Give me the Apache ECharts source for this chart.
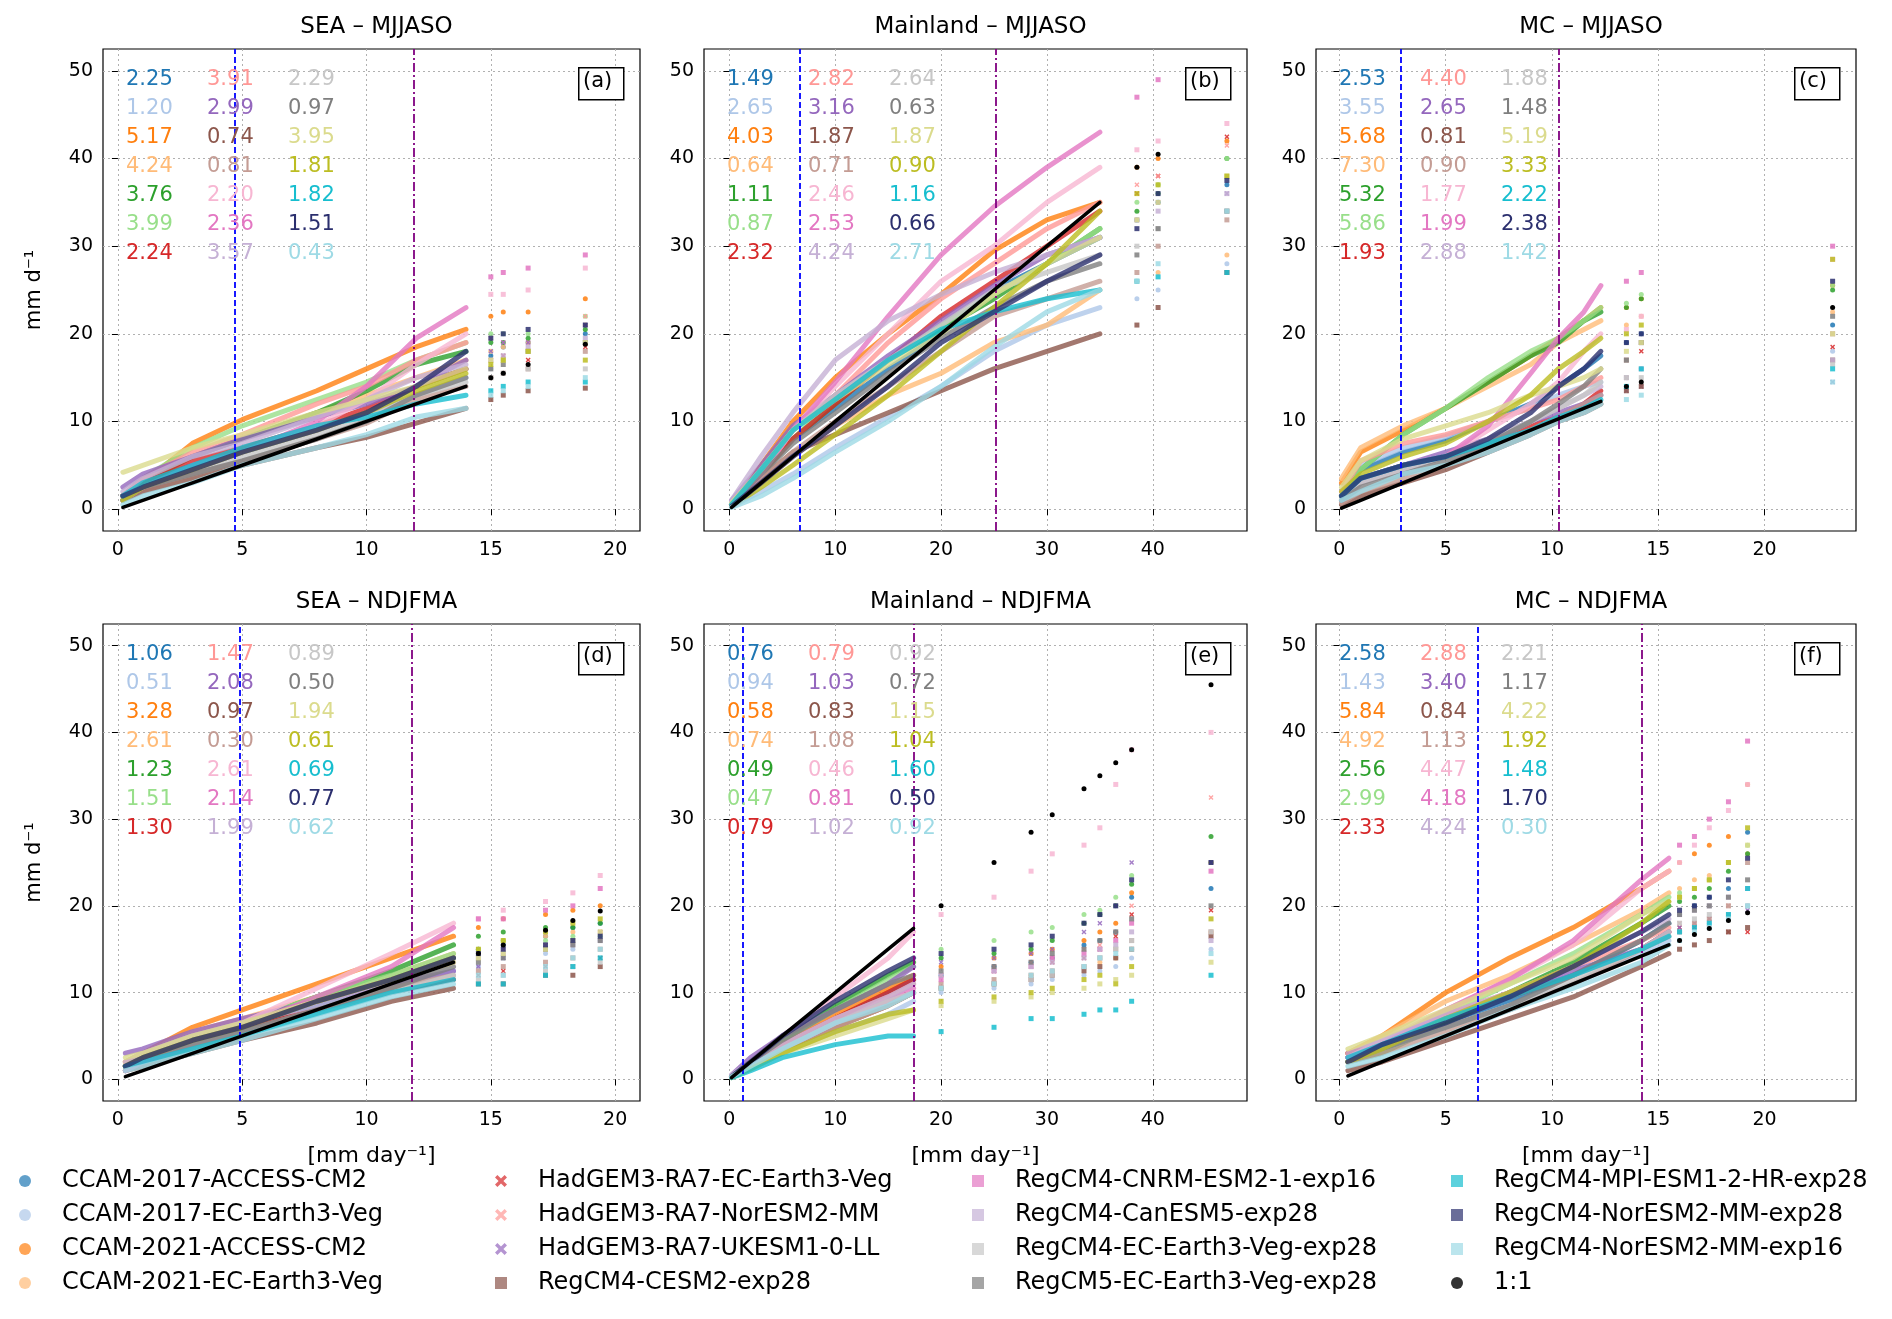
<!DOCTYPE html>
<html><head><meta charset="utf-8">
<script src="https://cdn.jsdelivr.net/npm/echarts@6/dist/echarts.min.js"></script>
<style>html,body{margin:0;padding:0;background:#fff}#c{width:1892px;height:1319px}</style>
</head><body><div id="c"></div>
<script>
const MODELS = ["CCAM-2017-ACCESS-CM2","CCAM-2017-EC-Earth3-Veg","CCAM-2021-ACCESS-CM2","CCAM-2021-EC-Earth3-Veg","Model-05","Model-06","HadGEM3-RA7-EC-Earth3-Veg","HadGEM3-RA7-NorESM2-MM","HadGEM3-RA7-UKESM1-0-LL","RegCM4-CESM2-exp28","Model-11","Model-12","RegCM4-CNRM-ESM2-1-exp16","RegCM4-CanESM5-exp28","RegCM4-EC-Earth3-Veg-exp28","RegCM5-EC-Earth3-Veg-exp28","Model-17","Model-18","RegCM4-MPI-ESM1-2-HR-exp28","RegCM4-NorESM2-MM-exp28","RegCM4-NorESM2-MM-exp16","1:1"];
const COLORS = ["#1f77b4","#aec7e8","#ff7f0e","#ffbb78","#2ca02c","#98df8a","#d62728","#ff9896","#9467bd","#8c564b","#c49c94","#f7b6d2","#e377c2","#c5b0d5","#c7c7c7","#7f7f7f","#dbdb8d","#bcbd22","#17becf","#2b2f6e","#9edae5","#000000"];
const SHAPES = ["circle","circle","circle","circle","circle","circle","x","x","x","rect","rect","rect","rect","rect","rect","rect","rect","rect","rect","rect","rect","circle"];
const LEGEND_COLS = [
 ["CCAM-2017-ACCESS-CM2","CCAM-2017-EC-Earth3-Veg","CCAM-2021-ACCESS-CM2","CCAM-2021-EC-Earth3-Veg"],
 ["HadGEM3-RA7-EC-Earth3-Veg","HadGEM3-RA7-NorESM2-MM","HadGEM3-RA7-UKESM1-0-LL","RegCM4-CESM2-exp28"],
 ["RegCM4-CNRM-ESM2-1-exp16","RegCM4-CanESM5-exp28","RegCM4-EC-Earth3-Veg-exp28","RegCM5-EC-Earth3-Veg-exp28"],
 ["RegCM4-MPI-ESM1-2-HR-exp28","RegCM4-NorESM2-MM-exp28","RegCM4-NorESM2-MM-exp16","1:1"]];
const TITLES = ["SEA – MJJASO","Mainland – MJJASO","MC – MJJASO","SEA – NDJFMA","Mainland – NDJFMA","MC – NDJFMA"];
const LABELS = ["(a)","(b)","(c)","(d)","(e)","(f)"];
const X_TICKS = [[0,5,10,15,20],[0,10,20,30,40],[0,5,10,15,20],[0,5,10,15,20],[0,10,20,30,40],[0,5,10,15,20]];
const Y_TICKS = [0,10,20,30,40,50];
const VLINES = [[4.7,11.9],[6.6,25.2],[2.9,10.3],[4.9,11.8],[1.3,17.4],[6.5,14.2]];
const STATS_A = ["2.25","1.20","5.17","4.24","3.76","3.99","2.24","3.91","2.99","0.74","0.81","2.20","2.36","3.57","2.29","0.97","3.95","1.81","1.82","1.51","0.43"];
const STATS_B = ["1.49","2.65","4.03","0.64","1.11","0.87","2.32","2.82","3.16","1.87","0.71","2.46","2.53","4.24","2.64","0.63","1.87","0.90","1.16","0.66","2.71"];
const STATS_C = ["2.53","3.55","5.68","7.30","5.32","5.86","1.93","4.40","2.65","0.81","0.90","1.77","1.99","2.88","1.88","1.48","5.19","3.33","2.22","2.38","1.42"];
const STATS_D = ["1.06","0.51","3.28","2.61","1.23","1.51","1.30","1.47","2.08","0.97","0.30","2.61","2.14","1.99","0.89","0.50","1.94","0.61","0.69","0.77","0.62"];
const STATS_E = ["0.76","0.94","0.58","0.74","0.49","0.47","0.79","0.79","1.03","0.83","1.08","0.46","0.81","1.02","0.92","0.72","1.15","1.04","1.60","0.50","0.92"];
const STATS_F = ["2.58","1.43","5.84","4.92","2.56","2.99","2.33","2.88","3.40","0.84","1.13","4.47","4.18","4.24","2.21","1.17","4.22","1.92","1.48","1.70","0.30"];
const X_A = [0.2,1,3,5,8,10,12,14,15,15.5,16.5,18.8]; const NDENSE_A = 8;
const X_B = [0.2,3,6,10,15,20,25,30,35,38.5,40.5,47]; const NDENSE_B = 9;
const X_C = [0.1,1,3,5,7,9,10.3,11.5,12.3,13.5,14.2,23.2]; const NDENSE_C = 9;
const X_D = [0.3,1,3,5,8,11,13.5,14.5,15.5,17.2,18.3,19.4]; const NDENSE_D = 7;
const X_E = [0.2,2,5,10,15,17.4,20,25,28.5,30.5,33.5,35,36.5,38,45.5]; const NDENSE_E = 6;
const X_F = [0.4,2,5,8,11,14.2,15.5,16,16.7,17.4,18.3,19.2]; const NDENSE_F = 7;
const Y_A = [
[1.5,3,5,6.5,9,11,14,16,17.5,18.5,19,20],
[1,2.5,4.5,6.5,9,11,13,15,16,17,18,19],
[1.5,3,7.5,10.2,13.5,16,18.5,20.5,22,22.5,22.5,24],
[1.5,3.5,6,8,11,13,15,17,18,18.5,19,21],
[1.5,3,6,8,11,13.5,16.5,18,19,19,19.5,20.5],
[1.5,3.5,7,9.5,12.5,14.5,17,19,20,20,20,22],
[1.5,3,5.5,7,9.5,11.5,14,16,17,17.5,17,18.5],
[1.5,3.5,6.5,8.5,12,14,17,19,19.5,19,19,22],
[2.5,4,6,8,10.5,12,14,17,18,19,19,21],
[1,2,3.5,5,7,8.2,9.8,11.5,12.5,13,13.5,13.8],
[1,2.5,4,5.5,8,9.8,12.5,14,15,15.5,16,18],
[1,2.5,4.5,6.5,9.5,12.5,16.5,20,24.5,24.5,25,27.5],
[1.5,2.5,5,6.5,10,14,19.5,23,26.5,27,27.5,29],
[2,3.5,6,7.5,10.5,12.5,15,16.5,17,17.5,18.5,19.5],
[1.5,2.5,4.5,6,8.5,10.5,13,14.5,15,15.5,16,16],
[1,2.5,4,5.5,8,10,13,15,16,16.5,18,19],
[4.2,5,7,8.5,11,12.5,14,16,17,17,18,19],
[1,2.5,4.5,6.5,9,11,13.5,15.5,16.5,17,18,17],
[1.5,3,5,7,9.5,10.5,12,13,13.5,14,14.5,14.5],
[1.5,2.5,4.5,6.5,9,11,14,18,19.5,20,20.5,21],
[0.5,1.5,3,5,7,8.5,10.5,11.5,13,13.5,14,15],
[0.2,1,3,5,8,10,12,14,15,15.5,16.5,18.8]];
const Y_B = [
[0.5,4,8,11.5,16,20,25,28,31,33,35,37],
[0.3,2,4,7,10.5,14,18,21,23,24,25,28],
[0.5,5,10,15,20,24.5,29.5,33,35,39,40,42],
[0.5,3,6,9.5,13,15.5,19,21,25,26,27,29],
[0.5,4,8,12,17,20.5,24,28,32,34,36,40],
[0.5,4,8,12.5,17,21,24.5,28,32,35,37,40],
[0.5,4,8,12,17,22,26,30,34,36,38,42.5],
[0.5,4.5,9,13,19,24,28,32,35,37,38,41.5],
[1,5,9.5,13,17.5,21.5,25.5,29,31,33,35,36],
[0.5,3.5,6.5,8.5,11,13.5,16,18,20,21,23,27],
[0.5,3.5,6.5,10,14,18,22,24,26,27,30,33],
[0.5,4,9,14,20,26,30,35,39,41,42,44],
[0.5,4,9,14.5,22,29,34.5,39,43,47,49,50],
[1,6,11,17,21.5,24.5,27,29,31,33,34,36],
[0.5,4.5,9,13,17,21,25,27,29,30,32,34],
[0.5,4,7.5,11,15.5,19.5,23,26,28,29,32,34],
[0.7,4.5,9,12.5,16.5,20,24.5,28,31,33,35,38],
[0.3,2.5,5,8.5,13,18,23,28,34,36,37,38],
[0.5,4.5,9,12.5,17,20.5,22.5,24,25,26,26.5,27],
[0.3,3,6,9.5,14,19,22.5,26,29,32,36,37.5],
[0.2,1.5,3.5,6.5,10,14,18.5,22.5,25,26,28,34],
[0.2,3,6,10,15,20,25,30,35,39,40.5,null]];
const Y_C = [
[2,4.5,6.5,7.8,10,12,14,16,17.5,19,20,21],
[2,5,7,8.3,10,11.5,13,14,14.5,15,16,18],
[3,6.5,9,11.5,14.5,17.5,19.5,21.5,23,23,24,25.5],
[3.5,7,9.5,11.5,14,16.5,19,20.5,21.5,21,22,22.5],
[1.5,4.5,8.5,11.5,14.5,17.5,19,21.5,22.5,23,24,25],
[1.5,4.5,8.5,11.5,15,18,19.5,21.5,23,23.5,24.5,25.5],
[1.5,3.5,5,6,7.5,9.5,10.5,12,13.5,15,18,18.5],
[2,5.5,7.5,8.5,10,11.5,12.5,14,15,17,19,20],
[1.5,3.5,5,6.5,8,10,11,12,13,13.5,14,14.5],
[0.5,1.5,3,4.5,6.5,8.5,10,11,12,13.5,14,17],
[0.7,2,3.5,5,7,9,10.5,12,13,17,19,20],
[1,3,4.5,6,9,12,14.5,18,20,20.5,22,28.5],
[1,3,4.5,6,9.5,15.5,19.5,22.5,25.5,26,27,30],
[1,3,4.5,6,7.5,10,11.5,13,14,15,16,17],
[1,3,4.5,6,8,10,11.5,13,14.5,15,15,16.5],
[1,2.5,4,5.5,7.5,10,12,14,16,17,19,22],
[2.5,5.5,8,9.5,11,13,14,15,16,18,19,20],
[2,4,6,7.5,10,13,16,18,19.5,20,21,28.5],
[1.5,3.5,5,6,7.5,9,10.5,11.5,12.5,14,16,16],
[1.5,3.5,5,6,8,11,14,16,18,19,20,26],
[1,2,4,5,6.5,8.5,10,11,12,12.5,13,14.5],
[0.1,1,3,5,7,9,10.3,11.5,12.3,14,14.5,23]];
const Y_D = [
[1.5,2.5,4.5,6,8.5,11.5,14,15,15.5,16.5,17.5,18],
[1,2,3.8,5.5,8,10.5,12.5,13,14,14.5,15,16],
[2,3,6,8,11,14,16.5,17.5,18.5,19,19.5,20],
[2,3,5.5,7,9.5,12,14.5,15,16,16.5,17,17],
[1.5,2.5,4.5,6.5,9.5,12.5,15.5,16.5,17,17.5,17.5,18],
[1.5,2.5,4.5,6.5,9.5,12,14.5,15,16,16,16.5,16.5],
[1.5,2.5,4.5,6,8,10,11.5,12,12.5,13,13,14],
[1.5,2.5,5,6.5,9,11.5,13.5,14,15,15.5,16,17],
[3,3.5,5.5,7,9,11,12.5,13,14,15,16,17],
[1,1.5,3,4.5,6.5,9,10.5,11,11,12,12,13],
[1,2,3.5,5.5,8,10.5,12,12.5,13,13.5,14,15],
[1.5,2.5,4.5,6.5,10.5,14.5,18,18.5,19.5,20.5,21.5,23.5],
[1,2,4,6,9.5,13,17.5,18.5,18.5,19.5,20,22],
[2,3,5,6.5,8.5,11.5,13.5,14,14.5,15,15.5,16],
[1.5,2.5,4,5.5,7.5,10,12,11.5,12,12.5,13,13.5],
[1.5,2.5,4,5.5,8,10.5,13,13.5,14,15,15.5,16],
[2.5,3,5,6.5,9,11.5,13.5,14,14.5,15,16,17],
[1.5,2.5,4.5,6,9,11.5,14,15,16,17,18,18.5],
[1.5,2,3.5,5,7.5,10,11.5,11,11,12,13,14],
[1.5,2.5,4.5,6,9,11.5,14,14.5,15,15.5,16,16.5],
[1,1.5,3,4.5,7,9.5,11,12,12,13,14,15],
[0.3,1,3,5,8,11,13.5,14.5,15.5,17.2,18.3,19.4]];
const Y_E = [
[0.3,2,4,7,10,11.5,12,13,13.5,14,15.5,16,17,21,22],
[0.3,1.5,3,5.5,7.5,9,10,10.5,11,11.5,12,12.5,13,14,15],
[0.3,2,4,7.5,10.5,12,13,14,14.5,15,16,17,18,21.5,25],
[0.3,1.5,3.5,6,8.5,10,10.5,11,12,12.5,13,13.5,14,15,17],
[0.3,2,4.5,8.5,12,13.5,14,14.5,15,16,18,19,20,22.5,28],
[0.3,2,4.5,8,11.5,13,15,16,17,17.5,19,19.5,21,23.5,25],
[0.3,2,4,7,10,11.5,12,12.5,13,13.5,14,15,16.5,19,19.5],
[0.3,2,4,7,9.5,11,12,13,13.5,14,15,15.5,17,20,32.5],
[0.5,2.5,5,8,11,13,13.5,14,14.5,15,17,18,20,25,25],
[0.3,1.5,3.5,6,8.5,10,10.5,11,11.5,12,12.5,13,14,15,16.5],
[0.3,1.5,3.5,6,8.5,10,11,11.5,12,12.5,13,14,15,16,17],
[0.3,2,5,9.5,14,17,19,21,24,26,27,29,34,38,40],
[0.3,1.5,3.5,6.5,9,10.5,11.5,12.5,13,14,14.5,15,16,18,24],
[0.5,2,4,7,9.5,11,12,12.5,13,13.5,14,15,15.5,17,16],
[0.3,1.5,3.5,6.5,9,10,10.5,11,11.5,12,13,14,15,16,17],
[0.3,2,4.5,8,11,12,12.5,13,13.5,14.5,15,16,17,18.5,20],
[0.2,1.2,3,5,7,8,8.5,9,9.5,10,10.5,11,11.5,12,13.5],
[0.2,1.2,3,5.5,7.5,8,9,9.5,10,10.5,11.5,12,11,13,18.5],
[0.2,1,2.5,4,5,5,5.5,6,7,7,7.5,8,8,9,12],
[0.3,2,5,9,12.5,14,14.5,15,15.5,16.5,18,19,20,23,25],
[0.3,1.5,3.5,6.5,8.5,10,10.5,11,12,12.5,13,14,14.5,15,14.5],
[0.2,2,5,10,15,17.4,20,25,28.5,30.5,33.5,35,36.5,38,45.5]];
const Y_F = [
[2.5,4,6.5,9,12,16,18,19,20,21,22,28.5],
[2,3.5,6,8.5,11,14.5,16,17,17.5,18,18.5,20],
[3,5,10,14,17.5,22,24,25,26,27,28,34],
[3,5,9,12,15.5,19.5,21.5,22,23,23.5,25,26],
[2,3,6.5,10,13.5,18,20,20.5,21,22,24,26],
[2,3.5,7.5,11,14.5,19,21,21.5,22,23,25,27],
[3,4,7.5,9.5,12,15,17,17.5,17.5,17.5,17,17],
[2.5,4.5,7.5,10,13,16,17.5,18,18,18.5,20,22],
[2.5,4,7,10,12.5,15,17,17.5,18,18.5,19,19.5],
[1,2,4.5,7,9.5,13,14.5,15,15.5,16,17,17.5],
[2,3,5.5,8,11,15,16.5,17,18,18.5,20,25],
[2.5,4.5,8,11.5,15.5,22,24,25,27,29,31,34],
[2.5,4,8,11.5,16,23,25.5,27,28,30,32,39],
[3,4.5,7.5,10,13,17,18.5,19,19.5,20,21,22],
[2,3.5,6,8.5,11.5,15,17,18,18.5,19,19,20],
[2,3.5,6,8.5,12,16,18,19,19.5,20,21,23],
[3.5,5,8,11,14,19,20.5,21,22,23,25,27],
[2,3.5,7,10,13,18,20.5,21,22,23,25,29],
[2.5,4,7,9.5,12,15,16.5,17,17.5,18,19,22],
[2,4,6.5,9.5,13,17,19,19.5,20,21,23,25.5],
[1.5,2.5,5,8,10.5,13.5,15.5,16,17,17.5,18.5,20],
[0.4,2,5,8,11,14.2,15.5,16,16.7,17.4,18.3,19.2]];

const PANELS = [
 {x:X_A,nd:NDENSE_A,y:Y_A,st:STATS_A,xmin:-0.6,xmax:21},
 {x:X_B,nd:NDENSE_B,y:Y_B,st:STATS_B,xmin:-2.4,xmax:48.9},
 {x:X_C,nd:NDENSE_C,y:Y_C,st:STATS_C,xmin:-1.1,xmax:24.3},
 {x:X_D,nd:NDENSE_D,y:Y_D,st:STATS_D,xmin:-0.6,xmax:21},
 {x:X_E,nd:NDENSE_E,y:Y_E,st:STATS_E,xmin:-2.4,xmax:48.9},
 {x:X_F,nd:NDENSE_F,y:Y_F,st:STATS_F,xmin:-1.1,xmax:24.3}];

const LEFTS=[103,704,1316], WIDTHS=[537,543,540], TOPS=[49,624], HEIGHTS=[482,477];
const XPATH='path://M0,2L2,0L5,3L8,0L10,2L7,5L10,8L8,10L5,7L2,10L0,8L3,5Z';
const sym = s => s==='x'?XPATH:s;
const FONT='DejaVu Sans';

const grids=[],xAxes=[],yAxes=[],series=[],titles=[],graphics=[];
PANELS.forEach((p,pi)=>{
  const r=Math.floor(pi/3), c=pi%3;
  const L=LEFTS[c],W=WIDTHS[c],T=TOPS[r],H=HEIGHTS[r];
  grids.push({left:L,top:T,width:W,height:H,show:true,borderColor:'#000',borderWidth:1.2,backgroundColor:'transparent'});
  const grid={show:true,lineStyle:{type:[2,3],color:'#b0b0b0',width:1}};
  xAxes.push({type:'value',gridIndex:pi,min:p.xmin,max:p.xmax,
    name:r===1?'[mm day⁻¹]':'',nameLocation:'middle',nameGap:44,nameTextStyle:{fontSize:22,color:'#000',fontFamily:FONT},
    axisLine:{show:false},axisTick:{show:true,length:6,lineStyle:{color:'#000'},customValues:X_TICKS[pi]},
    axisLabel:{fontSize:19,color:'#000',fontFamily:FONT,margin:10,customValues:X_TICKS[pi]},splitLine:grid});
  yAxes.push({type:'value',gridIndex:pi,min:-2.5,max:52.5,
    name:c===0?'mm d⁻¹':'',nameLocation:'middle',nameGap:58,nameTextStyle:{fontSize:21,color:'#000',fontFamily:FONT},
    axisLine:{show:false},axisTick:{show:true,length:6,lineStyle:{color:'#000'},customValues:Y_TICKS},
    axisLabel:{fontSize:19,color:'#000',fontFamily:FONT,margin:10,customValues:Y_TICKS},splitLine:grid});
  titles.push({text:TITLES[pi],left:L+W/2,top:T-38,textAlign:'center',textStyle:{fontSize:23,fontWeight:'normal',color:'#000',fontFamily:FONT}});
  for(let s=0;s<22;s++){
    const ys=p.y[s], data=[];
    p.x.forEach((xv,i)=>{
      if(ys[i]===null||ys[i]===undefined) return;
      if(i>=p.nd) data.push(null);
      data.push({value:[xv,ys[i]],symbolSize:i>=p.nd?5:0});
    });
    const black=s===21;
    const ser={type:'line',name:MODELS[s],xAxisIndex:pi,yAxisIndex:pi,data,showSymbol:true,symbol:sym(SHAPES[s]),
      connectNulls:false,animation:false,z:black?5:2,
      lineStyle:{color:COLORS[s],width:black?3.5:5,opacity:black?1:0.8,cap:'round',join:'round'},itemStyle:{color:COLORS[s],opacity:black?1:0.85}};
    if(black){
      ser.markLine={silent:true,symbol:'none',label:{show:false},animation:false,
        data:[{xAxis:VLINES[pi][0],lineStyle:{color:'#0000ff',type:[6,3],width:1.8}},
              {xAxis:VLINES[pi][1],lineStyle:{color:'#800080',type:[9,3,2,3],width:1.8}}]};
    }
    series.push(ser);
  }
  p.st.forEach((t,k)=>{
    const col=Math.floor(k/7), row=k%7;
    graphics.push({type:'text',left:L+23+col*81,top:T+20+row*29,
      style:{text:t,fill:COLORS[k],font:'21px "DejaVu Sans"'},z:100});
  });
  graphics.push({type:'rect',left:L+W-62,top:T+18,shape:{width:45,height:32},style:{fill:'#fff',stroke:'#000',lineWidth:1.5},z:100});
  graphics.push({type:'text',left:L+W-57,top:T+22,style:{text:LABELS[pi],fill:'#000',font:'21px "DejaVu Sans"'},z:101});
});

const LEG_LEFT=[14,490,967,1446];
const legends=LEGEND_COLS.map((names,ci)=>({orient:'vertical',left:LEG_LEFT[ci],top:1164,itemGap:10,itemWidth:12,itemHeight:12,
  textStyle:{fontSize:24,color:'#000',fontFamily:FONT,padding:[0,0,0,26]},
  data:names.map(n=>{const i=MODELS.indexOf(n);return {name:n,icon:sym(SHAPES[i]),itemStyle:{color:COLORS[i],opacity:i===21?0.8:0.7}};})}));

const chart=echarts.init(document.getElementById('c'));
chart.setOption({backgroundColor:'#fff',animation:false,title:titles,grid:grids,xAxis:xAxes,yAxis:yAxes,series,legend:legends,graphic:graphics});
</script></body></html>
